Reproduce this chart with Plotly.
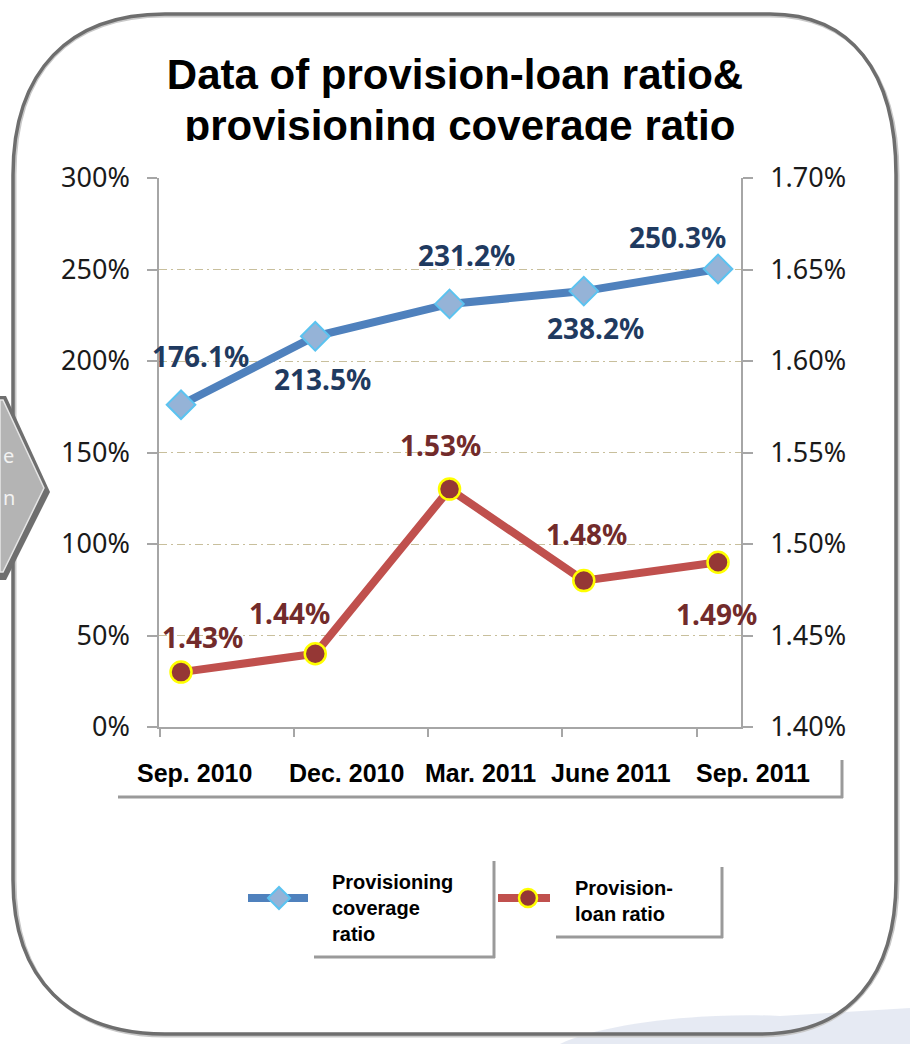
import plotly.graph_objects as go

# ---------------- data ----------------
categories = ["Sep. 2010", "Dec. 2010", "Mar. 2011", "June 2011", "Sep. 2011"]
coverage_ratio = [176.1, 213.5, 231.2, 238.2, 250.3]      # left axis, %
provision_loan = [1.43, 1.44, 1.53, 1.48, 1.49]           # right axis, %
coverage_labels = ["176.1%", "213.5%", "231.2%", "238.2%", "250.3%"]
provision_labels = ["1.43%", "1.44%", "1.53%", "1.48%", "1.49%"]
left_ticks = [0, 50, 100, 150, 200, 250, 300]
right_ticks = [1.40, 1.45, 1.50, 1.55, 1.60, 1.65, 1.70]
title_lines = ["Data of provision-loan ratio&", "provisioning coverage ratio"]
legend_names = ["Provisioning<br>coverage<br>ratio", "Provision-<br>loan ratio"]

# ---------------- styling / geometry ----------------
W, H = 910, 1044
def X(px):
    return px / W
def Y(py):
    return 1 - py / H

BLUE = "#4F81BD"
RED = "#C0504D"
BLUE_TXT = "#1F3A60"
RED_TXT = "#722B2B"
AXIS = "#A6A6A6"
GRID = "#C8BF9C"
TICKFONT = dict(family="Noto Sans", size=27, color="#1A1A1A")
LABFONT = "Noto Sans"
ARIAL = "Liberation Sans"

x_idx = list(range(len(categories)))
x_range = [-0.164, 4.171]
tick_marks = [i - 0.16 for i in x_idx]

fig = go.Figure()

# main series
fig.add_trace(go.Scatter(
    x=x_idx, y=coverage_ratio, mode="lines+markers", name="Provisioning coverage ratio",
    line=dict(color=BLUE, width=8),
    marker=dict(symbol="diamond", size=22, color="#95B3D7", line=dict(color="#5BC3F0", width=2)),
    xaxis="x", yaxis="y", showlegend=False, cliponaxis=False))
fig.add_trace(go.Scatter(
    x=x_idx, y=provision_loan, mode="lines+markers", name="Provision-loan ratio",
    line=dict(color=RED, width=8),
    marker=dict(symbol="circle", size=21, color="#953735", line=dict(color="#FFFF00", width=2.5)),
    xaxis="x", yaxis="y2", showlegend=False, cliponaxis=False))

# title (second line clipped by its subplot, as in the original)
fig.add_trace(go.Scatter(
    x=[455, 460], y=[78, 129], mode="text", text=title_lines,
    textfont=dict(family=ARIAL, size=42, color="#000000", weight="bold"),
    textposition="middle center", xaxis="x4", yaxis="y4", showlegend=False,
    cliponaxis=True, hoverinfo="skip"))

# legend samples (pixel overlay axis)
fig.add_trace(go.Scatter(x=[248, 308], y=[898, 898], mode="lines",
                         line=dict(color=BLUE, width=8), xaxis="x3", yaxis="y3",
                         showlegend=False, hoverinfo="skip"))
fig.add_trace(go.Scatter(x=[279], y=[898], mode="markers",
                         marker=dict(symbol="diamond", size=17, color="#95B3D7",
                                     line=dict(color="#5BC3F0", width=2)),
                         xaxis="x3", yaxis="y3", showlegend=False, hoverinfo="skip"))
fig.add_trace(go.Scatter(x=[498, 550], y=[898, 898], mode="lines",
                         line=dict(color=RED, width=8), xaxis="x3", yaxis="y3",
                         showlegend=False, hoverinfo="skip"))
fig.add_trace(go.Scatter(x=[528], y=[898], mode="markers",
                         marker=dict(symbol="circle", size=18, color="#953735",
                                     line=dict(color="#FFFF00", width=2.5)),
                         xaxis="x3", yaxis="y3", showlegend=False, hoverinfo="skip"))

annotations = []
cov_shift = [(19, 49), (7, -43), (17, 49), (12, -37), (-41, 32)]
for i, (v, t) in enumerate(zip(coverage_ratio, coverage_labels)):
    dx, dy = cov_shift[i]
    annotations.append(dict(x=i, y=v, xref="x", yref="y", text=t, showarrow=False,
                            xshift=dx, yshift=dy,
                            font=dict(family=LABFONT, size=28, color=BLUE_TXT, weight="bold")))
prov_shift = [(21, 35), (-26, 41), (-9, 44), (3, 47), (-2, -52)]
for i, (v, t) in enumerate(zip(provision_loan, provision_labels)):
    dx, dy = prov_shift[i]
    annotations.append(dict(x=i, y=v, xref="x", yref="y2", text=t, showarrow=False,
                            xshift=dx, yshift=dy,
                            font=dict(family=LABFONT, size=28, color=RED_TXT, weight="bold")))

# category labels in their own box below the plot
cat_shift = [13, 31, 31, 27, 35]
for i, c in enumerate(categories):
    annotations.append(dict(x=i, y=Y(773), xref="x", yref="paper", text=c, showarrow=False,
                            xshift=cat_shift[i], yanchor="middle",
                            font=dict(family=ARIAL, size=25, color="#000000", weight="bold")))

# legend texts
annotations.append(dict(x=X(330), y=Y(908), xref="paper", yref="paper", text=legend_names[0],
                        showarrow=False, xanchor="left", yanchor="middle", align="left",
                        font=dict(family=ARIAL, size=20, color="#000000", weight="bold")))
annotations.append(dict(x=X(573), y=Y(901), xref="paper", yref="paper", text=legend_names[1],
                        showarrow=False, xanchor="left", yanchor="middle", align="left",
                        font=dict(family=ARIAL, size=20, color="#000000", weight="bold")))

# fragments of the neighbouring arrow shape's text on the left edge
annotations.append(dict(x=X(1), y=Y(455), xref="paper", yref="paper", text="e", showarrow=False,
                        xanchor="left", font=dict(family="Noto Sans", size=20, color="#F2F2F2")))
annotations.append(dict(x=X(1), y=Y(497), xref="paper", yref="paper", text="n", showarrow=False,
                        xanchor="left", font=dict(family="Noto Sans", size=20, color="#F2F2F2")))

shapes = []

# faded background patch at the bottom right
shapes.append(dict(type="path", xref="paper", yref="paper", layer="below",
                   path=(f"M {X(560)},{Y(1044)} C {X(600)},{Y(1024)} {X(700)},{Y(1012)} {X(780)},{Y(1016)} "
                         f"L {X(910)},{Y(1008)} L {X(910)},{Y(1044)} Z"),
                   fillcolor="rgba(200,208,228,0.45)", line=dict(width=0)))

# rounded border with a soft shadow
def border(off, color, width):
    l, t, r, b = 13 + off, 14 + off, 896 + off, 1034 + off
    return dict(type="path", xref="paper", yref="paper", layer="above",
                path=(f"M {X(l)},{Y(175)} C {X(l)},{Y(70)} {X(70)},{Y(t)} {X(165)},{Y(t)} "
                      f"L {X(770)},{Y(t)} C {X(850)},{Y(t)} {X(r)},{Y(70)} {X(r)},{Y(175)} "
                      f"L {X(r)},{Y(880)} C {X(r)},{Y(975)} {X(850)},{Y(b)} {X(760)},{Y(b)} "
                      f"L {X(165)},{Y(b)} C {X(70)},{Y(b)} {X(l)},{Y(980)} {X(l)},{Y(880)} Z"),
                line=dict(color=color, width=width))
shapes.append(border(2, "#C8C8C8", 3))
shapes.append(border(0, "#6E6E6E", 3.5))

# chevron at the left edge
shapes.append(dict(type="path", xref="paper", yref="paper", layer="above",
                   path=(f"M {X(0)},{Y(396)} L {X(6)},{Y(396)} L {X(50)},{Y(492)} "
                         f"L {X(6)},{Y(580)} L {X(0)},{Y(580)} Z"),
                   fillcolor="#6F6F6F", line=dict(width=0)))
shapes.append(dict(type="path", xref="paper", yref="paper", layer="above",
                   path=(f"M {X(0)},{Y(400)} L {X(3)},{Y(400)} L {X(44)},{Y(488)} "
                         f"L {X(3)},{Y(572)} L {X(0)},{Y(572)} Z"),
                   fillcolor="#B4B4B4", line=dict(color="#E6E6E6", width=1.5)))

# category box lines
shapes.append(dict(type="line", xref="paper", yref="paper", x0=X(118), x1=X(843), y0=Y(797), y1=Y(797),
                   line=dict(color="#9A9A9A", width=3)))
shapes.append(dict(type="line", xref="paper", yref="paper", x0=X(842), x1=X(842), y0=Y(760), y1=Y(798),
                   line=dict(color="#9A9A9A", width=3)))
# legend box lines
shapes.append(dict(type="line", xref="paper", yref="paper", x0=X(314), x1=X(495), y0=Y(957), y1=Y(957),
                   line=dict(color="#9A9A9A", width=3)))
shapes.append(dict(type="line", xref="paper", yref="paper", x0=X(494), x1=X(494), y0=Y(861), y1=Y(958),
                   line=dict(color="#9A9A9A", width=3)))
shapes.append(dict(type="line", xref="paper", yref="paper", x0=X(556), x1=X(723), y0=Y(937), y1=Y(937),
                   line=dict(color="#9A9A9A", width=3)))
shapes.append(dict(type="line", xref="paper", yref="paper", x0=X(722), x1=X(722), y0=Y(867), y1=Y(938),
                   line=dict(color="#9A9A9A", width=3)))

hidden = dict(visible=False, showgrid=False, zeroline=False, fixedrange=True)

fig.update_layout(
    width=W, height=H, margin=dict(l=0, r=0, t=0, b=0, autoexpand=False),
    paper_bgcolor="white", plot_bgcolor="rgba(0,0,0,0)",
    xaxis=dict(domain=[X(159), X(741)], range=x_range, type="linear",
               tickvals=tick_marks, ticktext=[""] * len(tick_marks),
               ticks="outside", ticklen=8, tickcolor=AXIS, tickwidth=1.5,
               showline=True, linecolor=AXIS, linewidth=1.5, showgrid=False, zeroline=False),
    yaxis=dict(domain=[Y(727), Y(178)], range=[0, 300], tickvals=left_ticks,
               ticktext=[f"{v}%" for v in left_ticks], tickfont=TICKFONT,
               ticks="outside", ticklen=10, tickcolor=AXIS, tickwidth=1.5, ticklabelstandoff=12,
               showline=True, linecolor=AXIS, linewidth=1.5,
               showgrid=True, gridcolor=GRID, griddash="8px,4px,2px,4px", gridwidth=1.3, zeroline=False),
    yaxis2=dict(overlaying="y", side="right", anchor="x", range=[1.40, 1.70], tickvals=right_ticks,
                ticktext=[f"{v:.2f}%" for v in right_ticks], tickfont=TICKFONT,
                ticks="outside", ticklen=10, tickcolor=AXIS, tickwidth=1.5, ticklabelstandoff=12,
                showline=True, linecolor=AXIS, linewidth=1.5, showgrid=False, zeroline=False),
    xaxis3=dict(domain=[0, 1], range=[0, W], anchor="y3", **hidden),
    yaxis3=dict(domain=[0, 1], range=[H, 0], anchor="x3", **hidden),
    xaxis4=dict(domain=[0, 1], range=[0, W], anchor="y4", **hidden),
    yaxis4=dict(domain=[Y(141), 1], range=[141, 0], anchor="x4", **hidden),
    annotations=annotations, shapes=shapes, showlegend=False,
)

fig.write_html("out.html")
